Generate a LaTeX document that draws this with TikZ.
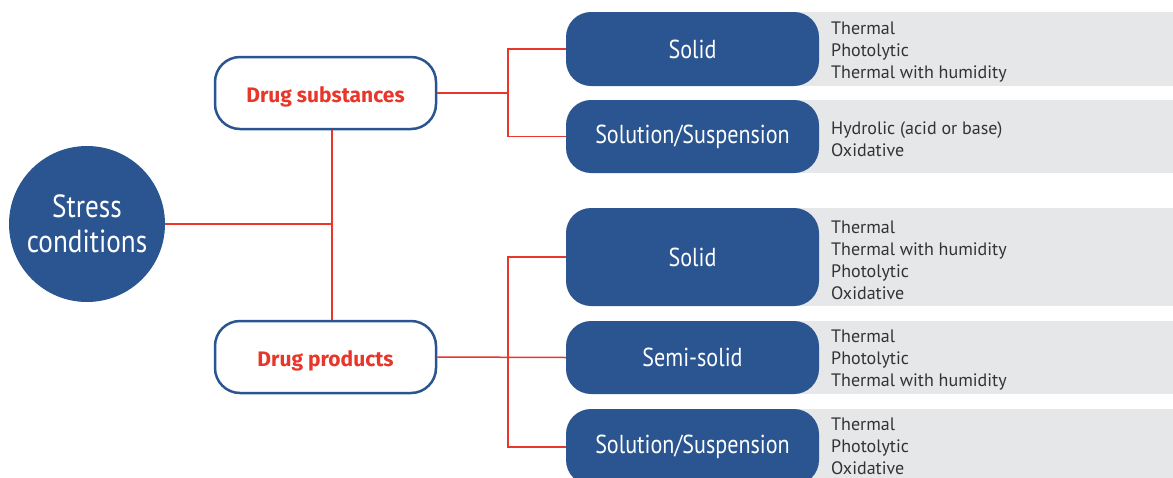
\documentclass[tikz,border=0pt]{standalone}
\usepackage{fontspec}
\setmainfont{PT Sans}
\newfontfamily\boxfont[FakeStretch=0.85]{PT Sans}
\newfontfamily\drugfont{Fira Sans}
\definecolor{dblue}{RGB}{42,85,144}
\definecolor{dred}{RGB}{232,54,42}
\definecolor{band}{RGB}{230,231,232}
\definecolor{txt}{RGB}{51,51,51}
\tikzset{
  bluebox/.style={fill=dblue, rounded corners=25pt, minimum width=253pt, text=white,
    font=\boxfont\fontsize{26}{30}\selectfont, inner sep=0pt},
  drugbox/.style={draw=dblue, line width=2.5pt, fill=white, rounded corners=25pt,
    minimum width=221pt, minimum height=72pt, text=dred,
    font=\drugfont\bfseries\fontsize{21}{25}\selectfont},
  list/.style={anchor=west, align=left, text=txt, inner sep=0pt,
    font=\fontsize{18}{22}\selectfont},
  link/.style={draw=dred, line width=1.5pt},
}
\begin{document}
\begin{tikzpicture}[x=1pt,y=-1pt]
\useasboundingbox (0,0) rectangle (1173,477);
\clip (0,0) rectangle (1173,477);
% gray bands
\fill[band] (700,12) rectangle (1173,86);
\fill[band] (700,100) rectangle (1173,173);
\fill[band] (700,208) rectangle (1173,306);
\fill[band] (700,321) rectangle (1173,394);
\fill[band] (700,409) rectangle (1173,490);
% central circle
\node[circle, fill=dblue, minimum size=156pt, inner sep=0pt, text=white, align=center,
  font=\boxfont\fontsize{32}{35}\selectfont] (sc) at (87,224) {Stress\\conditions};
% drug boxes
\node[drugbox, text height=22pt, text depth=4pt] (ds) at (325.5,93) {Drug substances};
\node[drugbox, text height=22pt, text depth=4pt] (dp) at (325.5,357) {Drug products};
% blue boxes
\node[bluebox, minimum height=74pt] (s1) at (692.5,49) {\raisebox{-1pt}{Solid}};
\node[bluebox, minimum height=73pt] (u1) at (692.5,136.5) {\raisebox{-2pt}{Solution/Suspension}};
\node[bluebox, minimum height=98pt] (s2) at (692.5,257) {\raisebox{-1pt}{Solid}};
\node[bluebox, minimum height=73pt] (m2) at (692.5,357.5) {\raisebox{-1pt}{Semi-solid}};
\node[bluebox, minimum height=76pt] (u2) at (692.5,447) {\raisebox{-2pt}{Solution/Suspension}};
% lists
\node[list] (l1) at (831,52) {Thermal\\Photolytic\\Thermal with humidity};
\node[list] (l2) at (831,139) {Hydrolic (acid or base)\\Oxidative};
\node[list] (l3) at (831,260) {Thermal\\Thermal with humidity\\Photolytic\\Oxidative};
\node[list] (l4) at (831,360) {Thermal\\Photolytic\\Thermal with humidity};
\node[list] (l5) at (831,446) {Thermal\\Photolytic\\Oxidative};
% junction coordinates
\coordinate (j0) at (332,224);
\coordinate (j1) at (508,93);
\coordinate (j2) at (508,357);
% connectors
\draw[link] (sc.east) -- (j0);
\draw[link] (ds.south -| j0) -- (dp.north -| j0);
\draw[link] (ds.east) -- (j1);
\draw[link] (s1.west) -| (j1) |- (u1.west);
\draw[link] (dp.east) -- (m2.west);
\draw[link] (s2.west) -| (j2) |- (u2.west);
\end{tikzpicture}
\end{document}
